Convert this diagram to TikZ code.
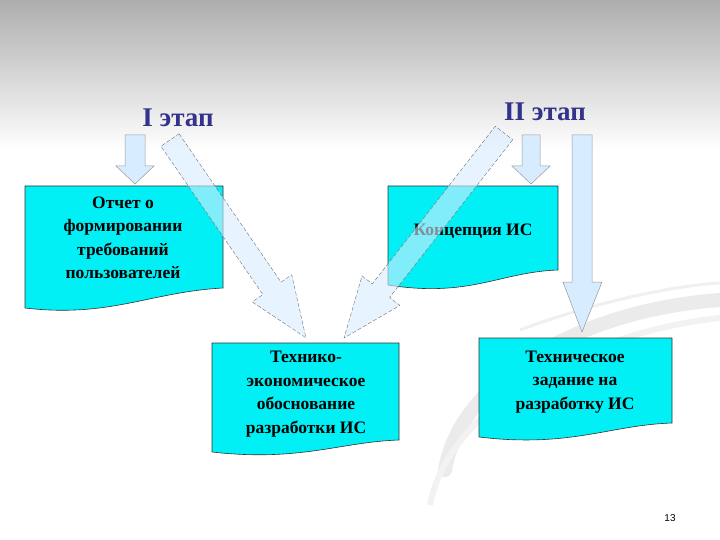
\documentclass[tikz,border=0pt]{standalone}
\usepackage{fontspec}
\setmainfont{Liberation Serif}
\newfontfamily\sansf{Liberation Sans}
\usetikzlibrary{calc}
\definecolor{docc}{RGB}{0,240,245}
\definecolor{arrf}{RGB}{215,236,255}
\definecolor{ttl}{RGB}{51,51,140}
\tikzset{
 docbox/.style={draw=black!80,line width=0.6pt,fill=docc},
 doctext/.style={font=\bfseries\fontsize{17.5}{23.5}\selectfont,align=center},
 blockarr/.style={draw=gray!80,line width=0.5pt,fill=arrf},
 diagarr/.style={draw=gray!90!black,dashed,dash pattern=on 4pt off 2pt,line width=0.4pt,fill=arrf,fill opacity=0.6},
 title/.style={font=\bfseries\fontsize{27}{30}\selectfont,text=ttl}
}
\begin{document}
\begin{tikzpicture}[x=1pt,y=-1pt]
\useasboundingbox (0,0) rectangle (720,540);
\fill[white] (0,0) rectangle (720,540);
\shade[top color=black!32,bottom color=white] (0,0) rectangle (720,150);
% swoosh
\draw[black!8,line width=14pt,line cap=round] (445,470) .. controls (460,380) and (580,310) .. (720,300);
\draw[black!5,line width=6pt] (430,505) .. controls (450,400) and (600,330) .. (720,318);
\draw[black!6,line width=3pt] (520,330) .. controls (600,300) and (680,285) .. (720,283);
% titles
\node[title] (t1) at (178,118) {I этап};
\node[title] (t2) at (545,112) {II этап};
% documents
\draw[docbox] (25,186) -- (223,186) -- (223,288) .. controls (150,292) and (110,318) .. (25,308) -- cycle;
\node[doctext] (d1) at (123,238) {Отчет о\\формировании\\требований\\пользователей};
\draw[docbox] (388,186) -- (558,186) -- (558,270) .. controls (500,272) and (470,298) .. (388,285) -- cycle;
\node[doctext] (d2) at (473,231) {Концепция ИС};
\draw[docbox] (212,343) -- (399,343) -- (399,440) .. controls (340,442) and (300,462) .. (212,452) -- cycle;
\node[doctext] (d3) at (306,394) {Технико-\\экономическое\\обоснование\\разработки ИС};
\draw[docbox] (479,338) -- (672,338) -- (672,423) .. controls (610,425) and (570,448) .. (479,437) -- cycle;
\node[doctext] (d4) at (575,382) {Техническое\\задание на\\разработку ИС};
% vertical block arrows
\draw[blockarr] (125,135) -- (145,135) -- (145,166) -- (154,166) -- (135,184) -- (116,166) -- (125,166) -- cycle;
\draw[blockarr] (522,135) -- (540,135) -- (540,166) -- (550,166) -- (531,184) -- (512,166) -- (522,166) -- cycle;
\draw[blockarr] (572,135) -- (592,135) -- (592,282) -- (602,282) -- (582,332) -- (563,282) -- (572,282) -- cycle;
% diagonal arrows
\begin{scope}[shift={(170,140)},rotate=-55.5]
\draw[diagarr] (0,-11) -- (180,-11) -- (180,-24) -- (240,0) -- (180,24) -- (180,11) -- (0,11) -- cycle;
\end{scope}
\begin{scope}[shift={(504,133)},rotate=-127.97]
\draw[diagarr] (0,-11) -- (200,-11) -- (200,-24) -- (260,0) -- (200,24) -- (200,11) -- (0,11) -- cycle;
\end{scope}
\node[font=\sansf\fontsize{10}{12}\selectfont] (pg) at (670,518) {13};
\end{tikzpicture}
\end{document}
